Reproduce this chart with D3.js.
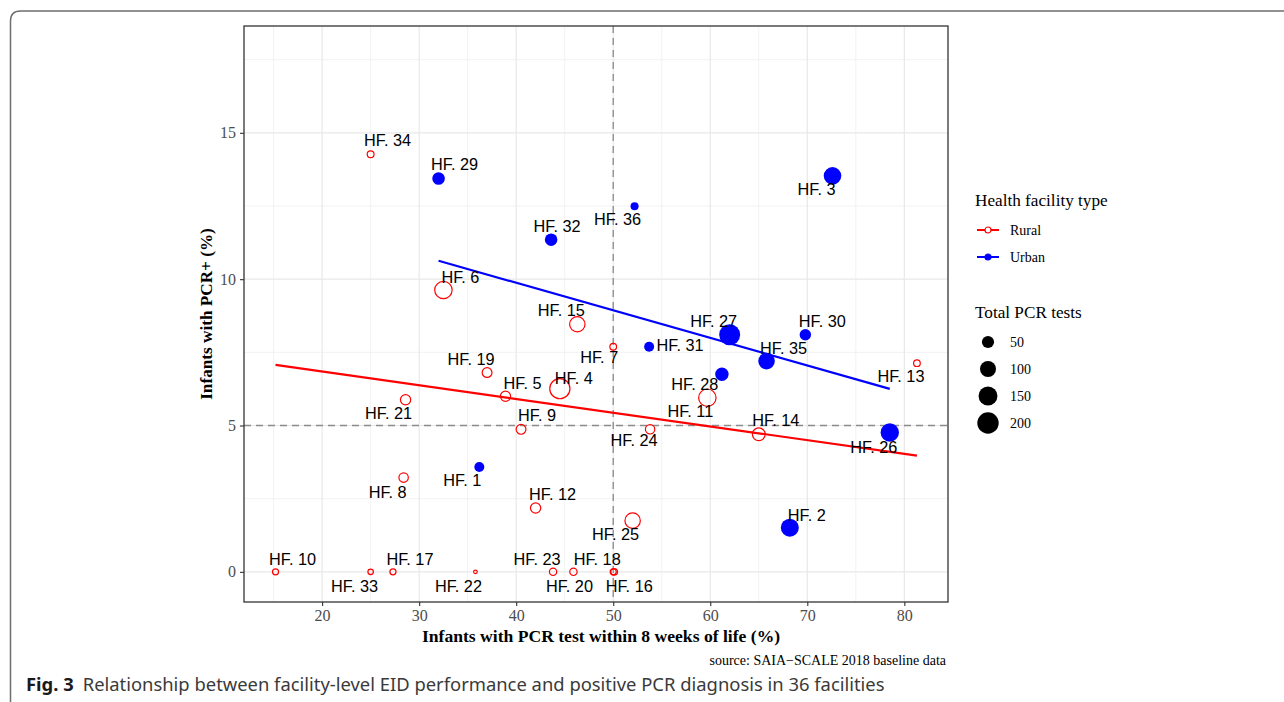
<!DOCTYPE html>
<html>
<head>
<meta charset="utf-8">
<script src="https://cdn.jsdelivr.net/npm/d3@7"></script>
<style>
  body { margin: 0; background: #fff; }
  svg { display: block; }
</style>
</head>
<body>
<svg id="chart" width="1284" height="702"></svg>
<script>
// facility data
var facilities = ["HF. 1","HF. 2","HF. 3","HF. 4","HF. 5","HF. 6","HF. 7","HF. 8","HF. 9","HF. 10","HF. 11","HF. 12","HF. 13","HF. 14","HF. 15","HF. 16","HF. 17","HF. 18","HF. 19","HF. 20","HF. 21","HF. 22","HF. 23","HF. 24","HF. 25","HF. 26","HF. 27","HF. 28","HF. 29","HF. 30","HF. 31","HF. 32","HF. 33","HF. 34","HF. 35","HF. 36"];
var facilityType = ["Urban","Urban","Urban","Rural","Rural","Rural","Rural","Rural","Rural","Rural","Rural","Rural","Rural","Rural","Rural","Rural","Rural","Rural","Rural","Rural","Rural","Rural","Rural","Rural","Rural","Urban","Urban","Urban","Urban","Urban","Urban","Urban","Rural","Rural","Urban","Urban"];
var pctTested8wk = [36.2, 68.2, 72.6, 44.5, 38.9, 32.5, 50.0, 28.4, 40.5, 15.2, 59.7, 42.0, 81.3, 65.0, 46.3, 50.0, 27.3, 50.1, 37.0, 45.9, 28.6, 35.8, 43.8, 53.8, 52.0, 78.5, 62.0, 61.2, 32.0, 69.8, 53.7, 43.6, 25.0, 25.0, 65.8, 52.2];
var pctPositive = [3.58, 1.51, 13.53, 6.26, 6.00, 9.63, 7.69, 3.22, 4.87, 0, 5.95, 2.18, 7.13, 4.70, 8.46, 0, 0, 0, 6.81, 0, 5.88, 0, 0, 4.87, 1.75, 4.76, 8.10, 6.75, 13.44, 8.10, 7.69, 11.35, 0, 14.27, 7.20, 12.49];
var totalTests = [29, 133, 126, 200, 42, 144, 14, 34, 38, 11, 144, 42, 14, 71, 109, 11, 11, 14, 38, 18, 42, 2, 18, 34, 109, 140, 191, 64, 54, 42, 29, 54, 8, 15, 109, 15];

// linear fit end points per facility type
var ruralFit = [[15.2, 7.07], [81.3, 3.97]];
var urbanFit = [[32.0, 10.63], [78.5, 6.25]];

var xTicks = [20, 30, 40, 50, 60, 70, 80];
var yTicks = [0, 5, 10, 15];
var xMinor = [15, 25, 35, 45, 55, 65, 75];
var yMinor = [2.5, 7.5, 12.5, 17.5];
var refX = 50, refY = 5;
var types = ["Rural", "Urban"];
var sizeBreaks = [50, 100, 150, 200];

// label placement (pixel offsets from the point, like the repelled labels)
var labelNudge = {
  "HF. 1": [-17, 19], "HF. 2": [17, -7], "HF. 3": [-16, 19], "HF. 4": [14, -5],
  "HF. 5": [17, -7], "HF. 6": [17, -7], "HF. 7": [-14, 16], "HF. 8": [-16, 20],
  "HF. 9": [16, -8], "HF. 10": [17, -7], "HF. 11": [-17, 19], "HF. 12": [17, -8],
  "HF. 13": [-16, 19], "HF. 14": [17, -8], "HF. 15": [-16, -8], "HF. 16": [16, 20],
  "HF. 17": [17, -7], "HF. 18": [-17, -7], "HF. 19": [-16, -8], "HF. 20": [-4, 20],
  "HF. 21": [-17, 19], "HF. 22": [-17, 20], "HF. 23": [-16, -7], "HF. 24": [-16, 17],
  "HF. 25": [-17, 19], "HF. 26": [-16, 20], "HF. 27": [-16, -8], "HF. 28": [-27, 16],
  "HF. 29": [16, -8], "HF. 30": [17, -8], "HF. 31": [31, 4], "HF. 32": [6, -8],
  "HF. 33": [-16, 20], "HF. 34": [17, -8], "HF. 35": [17, -7], "HF. 36": [-17, 19]
};

var data = facilities.map(function(d, i) {
  return { name: d, type: facilityType[i], x: pctTested8wk[i], y: pctPositive[i], n: totalTests[i] };
});

var svg = d3.select("#chart");
var panel = { left: 244, top: 26, right: 948, bottom: 602 };

var x = d3.scaleLinear().domain([11.95, 84.5]).range([panel.left, panel.right]);
var y = d3.scaleLinear().domain([-1.03, 18.65]).range([panel.bottom, panel.top]);
var r = d3.scaleSqrt().domain([0, 200]).range([1.5, 10.7]);
var colour = d3.scaleOrdinal().domain(types).range(["#ff0000", "#0000ff"]);

var serif = "'Liberation Serif', 'Times New Roman', serif";
var sans = "'Liberation Sans', Arial, Helvetica, sans-serif";

// outer figure frame
svg.append("path")
  .attr("d", "M10.5,702 L10.5,21 Q10.5,11 20.5,11 L1284,11")
  .style("fill", "none").style("stroke", "#6e6e6e").style("stroke-width", 1.5);

var g = svg.append("g");

// grid
g.selectAll("line.xminor").data(xMinor).enter().append("line").attr("class", "xminor")
  .attr("x1", function(d) { return x(d); }).attr("x2", function(d) { return x(d); })
  .attr("y1", panel.top).attr("y2", panel.bottom)
  .style("stroke", "#ececec").style("stroke-width", 0.7);
g.selectAll("line.yminor").data(yMinor).enter().append("line").attr("class", "yminor")
  .attr("y1", function(d) { return y(d); }).attr("y2", function(d) { return y(d); })
  .attr("x1", panel.left).attr("x2", panel.right)
  .style("stroke", "#ececec").style("stroke-width", 0.7);
g.selectAll("line.xmajor").data(xTicks).enter().append("line").attr("class", "xmajor")
  .attr("x1", function(d) { return x(d); }).attr("x2", function(d) { return x(d); })
  .attr("y1", panel.top).attr("y2", panel.bottom)
  .style("stroke", "#e8e8e8").style("stroke-width", 1.2);
g.selectAll("line.ymajor").data(yTicks).enter().append("line").attr("class", "ymajor")
  .attr("y1", function(d) { return y(d); }).attr("y2", function(d) { return y(d); })
  .attr("x1", panel.left).attr("x2", panel.right)
  .style("stroke", "#e8e8e8").style("stroke-width", 1.2);

// reference lines
g.append("line")
  .attr("x1", x(refX)).attr("x2", x(refX)).attr("y1", panel.top).attr("y2", panel.bottom)
  .style("stroke", "#8a8a8a").style("stroke-width", 1.3).style("stroke-dasharray", "7,5");
g.append("line")
  .attr("y1", y(refY)).attr("y2", y(refY)).attr("x1", panel.left).attr("x2", panel.right)
  .style("stroke", "#8a8a8a").style("stroke-width", 1.3).style("stroke-dasharray", "7,5");

// fit lines
var line = d3.line().x(function(d) { return x(d[0]); }).y(function(d) { return y(d[1]); });
g.append("path").attr("d", line(ruralFit))
  .style("fill", "none").style("stroke", colour("Rural")).style("stroke-width", 2.2);
g.append("path").attr("d", line(urbanFit))
  .style("fill", "none").style("stroke", colour("Urban")).style("stroke-width", 2.2);

// points
g.selectAll("circle.pt").data(data).enter().append("circle").attr("class", "pt")
  .attr("cx", function(d) { return x(d.x); })
  .attr("cy", function(d) { return y(d.y); })
  .attr("r", function(d) { return d.type == "Rural" ? Math.max(1.2, r(d.n) - 0.6) : r(d.n); })
  .style("fill", function(d) { return d.type == "Rural" ? "none" : colour(d.type); })
  .style("stroke", function(d) { return d.type == "Rural" ? colour(d.type) : "none"; })
  .style("stroke-width", 1.2);

// point labels
g.selectAll("text.lab").data(data).enter().append("text").attr("class", "lab")
  .attr("x", function(d) { return x(d.x) + labelNudge[d.name][0]; })
  .attr("y", function(d) { return y(d.y) + labelNudge[d.name][1]; })
  .attr("text-anchor", "middle")
  .style("font-family", sans).style("font-size", "16.3px").style("fill", "#000")
  .text(function(d) { return d.name; });

// panel border
svg.append("rect")
  .attr("x", panel.left).attr("y", panel.top)
  .attr("width", panel.right - panel.left).attr("height", panel.bottom - panel.top)
  .style("fill", "none").style("stroke", "#333").style("stroke-width", 1.3);

// axes
var xAxis = svg.append("g").attr("transform", "translate(0," + panel.bottom + ")")
  .call(d3.axisBottom(x).tickValues(xTicks).tickSize(4).tickPadding(4));
var yAxis = svg.append("g").attr("transform", "translate(" + panel.left + ",0)")
  .call(d3.axisLeft(y).tickValues(yTicks).tickSize(4).tickPadding(4));
[xAxis, yAxis].forEach(function(a) {
  a.select(".domain").remove();
  a.selectAll(".tick line").style("stroke", "#333").style("stroke-width", 1.1);
  a.selectAll(".tick text").style("font-family", serif).style("font-size", "16px").style("fill", "#4d4d4d");
});

svg.append("text")
  .attr("x", 601).attr("y", 642)
  .attr("text-anchor", "middle")
  .style("font-family", serif).style("font-size", "17.6px").style("font-weight", "bold")
  .text("Infants with PCR test within 8 weeks of life (%)");
svg.append("text")
  .attr("transform", "translate(212," + ((panel.top + panel.bottom) / 2) + ") rotate(-90)")
  .attr("text-anchor", "middle")
  .style("font-family", serif).style("font-size", "17.2px").style("font-weight", "bold")
  .text("Infants with PCR+ (%)");

// source note
svg.append("text")
  .attr("x", 946).attr("y", 665).attr("text-anchor", "end")
  .style("font-family", serif).style("font-size", "14px").style("fill", "#000")
  .text("source: SAIA\u2212SCALE 2018 baseline data");

// legends
var leg = svg.append("g").attr("transform", "translate(975,0)");
leg.append("text").attr("x", 0).attr("y", 206)
  .style("font-family", serif).style("font-size", "17.2px")
  .text("Health facility type");

var typeKeys = leg.selectAll("g.typeKey").data(types).enter().append("g").attr("class", "typeKey")
  .attr("transform", function(d, i) { return "translate(0," + (230 + i * 27) + ")"; });
typeKeys.append("line").attr("x1", 2).attr("x2", 24).attr("y1", 0).attr("y2", 0)
  .style("stroke", function(d) { return colour(d); }).style("stroke-width", 2);
typeKeys.append("circle").attr("cx", 13).attr("cy", 0).attr("r", 3)
  .style("fill", function(d) { return d == "Rural" ? "#fff" : colour(d); })
  .style("stroke", function(d) { return colour(d); }).style("stroke-width", 1.2);
typeKeys.append("text").attr("x", 35).attr("y", 4.5)
  .style("font-family", serif).style("font-size", "14px")
  .text(function(d) { return d; });

leg.append("text").attr("x", 0).attr("y", 318)
  .style("font-family", serif).style("font-size", "17.2px")
  .text("Total PCR tests");

var sizeKeys = leg.selectAll("g.sizeKey").data(sizeBreaks).enter().append("g").attr("class", "sizeKey")
  .attr("transform", function(d, i) { return "translate(0," + (342 + i * 27) + ")"; });
sizeKeys.append("circle").attr("cx", 13).attr("cy", 0)
  .attr("r", function(d) { return r(d); })
  .style("fill", "#000");
sizeKeys.append("text").attr("x", 35).attr("y", 4.5)
  .style("font-family", serif).style("font-size", "14px")
  .text(function(d) { return d; });

// figure caption
var cap = svg.append("text").attr("x", 26).attr("y", 691)
  .style("font-family", "'Noto Sans', 'Open Sans', sans-serif").style("font-size", "18px").style("fill", "#3a3a3a");
cap.append("tspan").style("font-weight", "bold").style("fill", "#1a1a1a").text("Fig. 3");
cap.append("tspan").attr("dx", 9).text("Relationship between facility-level EID performance and positive PCR diagnosis in 36 facilities");
var capW = cap.node().getComputedTextLength();
cap.style("font-size", (18 * 850 / capW).toFixed(2) + "px");
</script>
</body>
</html>
